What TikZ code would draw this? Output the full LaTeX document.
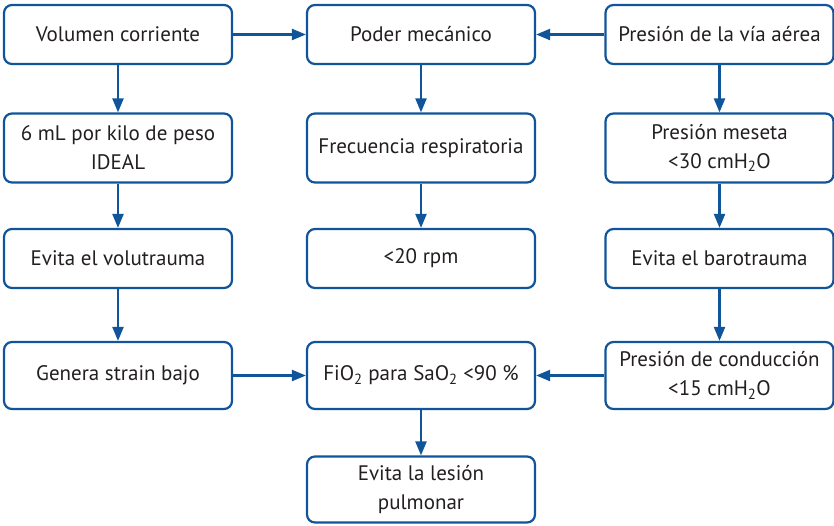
\documentclass[tikz,border=0pt]{standalone}
\usepackage{fontspec}
\setmainfont{PT Sans}
\usepackage{xcolor}
\usetikzlibrary{positioning}
\usetikzlibrary{arrows.meta}
\definecolor{azul}{RGB}{16,84,154}
\definecolor{texto}{RGB}{35,31,32}

\begin{document}
\begin{tikzpicture}[
x=1pt, y=-1pt,
font=\fontsize{21}{29}\selectfont,
>={Triangle[length=14pt,width=11pt]},   %Pfeilspitzen
caja/.style={draw=azul, line width=2.2pt, rounded corners=8pt, fill=white,
  text=texto, align=center, minimum width=228pt, inner sep=2pt},
flecha/.style={->, draw=azul, line width=2.2pt}
]

\useasboundingbox (0,0) rectangle (834,525);

% Zeile 1
\node[caja, minimum height=59pt] (volumen) at (118,34.5) {Volumen corriente};
\node[caja, minimum height=59pt] (poder) at (421,34.5) {Poder mecánico};
\node[caja, minimum height=59pt] (presion) at (719.5,34.5) {Presión de la vía aérea};

% Zeile 2
\node[caja, minimum height=69pt] (peso) at (118,148) {6 mL por kilo de peso\\IDEAL};
\node[caja, minimum height=69pt] (frecuencia) at (421,148) {Frecuencia respiratoria};
\node[caja, minimum height=69pt] (meseta) at (719.5,148) {Presión meseta\\<30 cmH\textsubscript{2}O};

% Zeile 3
\node[caja, minimum height=59pt] (volutrauma) at (118,258.5) {Evita el volutrauma};
\node[caja, minimum height=59pt] (rpm) at (421,258.5) {<20 rpm};
\node[caja, minimum height=59pt] (barotrauma) at (719.5,258.5) {Evita el barotrauma};

% Zeile 4
\node[caja, minimum height=67pt] (strain) at (118,375.5) {Genera strain bajo};
\node[caja, minimum height=67pt] (fio) at (421,375.5) {FiO\textsubscript{2} para SaO\textsubscript{2} <90 \%};
\node[caja, minimum height=67pt] (conduccion) at (719.5,375.5) {Presión de conducción\\<15 cmH\textsubscript{2}O};

% Zeile 5
\node[caja, minimum height=66pt] (lesion) at (421,489.5) {Evita la lesión\\pulmonar};

% Pfeile
\draw[flecha] (volumen) -- (poder);
\draw[flecha] (presion) -- (poder);
\draw[flecha] (volumen) -- (peso);
\draw[flecha] (poder) -- (frecuencia);
\draw[flecha] (presion) -- (meseta);
\draw[flecha] (peso) -- (volutrauma);
\draw[flecha] (frecuencia) -- (rpm);
\draw[flecha] (meseta) -- (barotrauma);
\draw[flecha] (volutrauma) -- (strain);
\draw[flecha] (barotrauma) -- (conduccion);
\draw[flecha] (strain) -- (fio);
\draw[flecha] (conduccion) -- (fio);
\draw[flecha] (fio) -- (lesion);

\end{tikzpicture}
\end{document}
